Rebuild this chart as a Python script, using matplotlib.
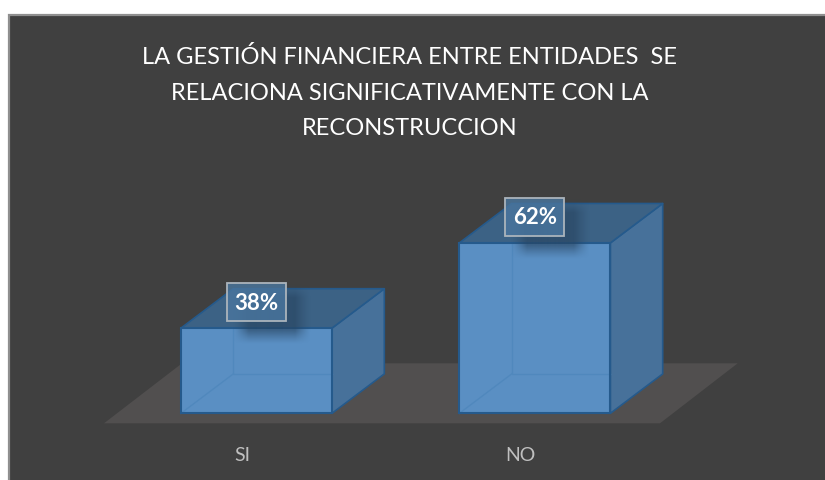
import matplotlib
matplotlib.use("Agg")
import matplotlib.pyplot as plt
import numpy as np
from matplotlib.colors import to_rgb
from matplotlib.patches import Polygon, Rectangle

categories = ["SI", "NO"]
values = [38, 62]
labels = ["38%", "62%"]
title = "LA GESTIÓN FINANCIERA ENTRE ENTIDADES  SE\nRELACIONA SIGNIFICATIVAMENTE CON LA\nRECONSTRUCCION"

W, H = 825, 481
X0, XS = 256.5, 278.4      # pixel of category 0, pixels per category
Y0, YS, VBASE = 414.3, 3.55, 14.0  # baseline pixel, pixels per unit, axis minimum
BW = 151 / XS
DX, DY = 52.3 / XS, 39.4 / YS      # 3-D depth in data units

plt.rcParams["font.family"] = ["Lato", "DejaVu Sans"]
fig = plt.figure(figsize=(W / 100, H / 100), dpi=100, facecolor="white")
ax = fig.add_axes([0, 0, 1, 1])
ax.set_xlim(-X0 / XS, (W - X0) / XS)
ax.set_ylim(VBASE - (H - Y0) / YS, VBASE + Y0 / YS)
ax.axis("off")

def px(x, y):
    """Figure pixel (top-left origin) to data coordinates, for the panel and floor."""
    return ((x - X0) / XS, VBASE + (Y0 - y) / YS)

# panel
x0, y0 = px(8.5, 15.5)
x1, y1 = px(W + 5, H + 5)
ax.add_patch(Rectangle((x0, y1), x1 - x0, y0 - y1, fc="#404040", ec="#8f8f8f", lw=1.6, zorder=0))

# floor
ax.add_patch(Polygon([px(104, 424.3), px(660, 424.3), px(737.7, 364.3), px(182, 364.3)],
                     closed=True, fc="#514f4f", ec="none", zorder=1))

EDGE = "#255a8c"
# soft shadow, as an alpha mask of a blurred box
n = 120
gx, gy = np.meshgrid(np.linspace(-1, 1, n), np.linspace(-1, 1, n))
def ramp(d, edge):
    return np.clip((1 - np.abs(d)) / edge, 0, 1) ** 1.2
mask = ramp(gx, 0.4) * ramp(gy, 0.45)
rgba = np.zeros((n, n, 4))
rgba[..., :3] = to_rgb("#27435f")
rgba[..., 3] = mask * 0.6

for i, (v, lab) in enumerate(zip(values, labels)):
    l, r = i - BW / 2, i + BW / 2
    ax.add_patch(Polygon([(r, VBASE), (r + DX, VBASE + DY), (r + DX, v + DY), (r, v)],
                         closed=True, fc="#47719a", ec=EDGE, lw=1.2, joinstyle="round", zorder=3))
    ax.add_patch(Polygon([(l, v), (r, v), (r + DX, v + DY), (l + DX, v + DY)],
                         closed=True, fc="#3c6285", ec=EDGE, lw=1.2, joinstyle="round", zorder=3))
    ax.add_patch(Rectangle((l, VBASE), BW, v - VBASE, fc="#5a8fc3", ec="none", zorder=4))
    # faint hidden edges
    ax.plot([l + DX, l + DX, r], [v, VBASE + DY, VBASE + DY], color="#5088bd", lw=1, zorder=5)
    ax.plot([l, l + DX], [VBASE, VBASE + DY], color="#5088bd", lw=1, zorder=5)
    ax.add_patch(Rectangle((l, VBASE), BW, v - VBASE, fc="none", ec=EDGE, lw=1.5, zorder=6))

    cx, cy = i, v + 26.0 / YS
    hw, hh = 29.5 / XS, 19.3 / YS
    # blurred label shadow, offset down and right of the box
    ax.imshow(rgba, extent=(cx - 24 / XS, cx + 54 / XS, cy - 42 / YS, cy + 18 / YS),
              aspect="auto", interpolation="bilinear", zorder=7)
    # label box
    ax.add_patch(Rectangle((cx - hw, cy - hh), 2 * hw, 2 * hh, fc="#4a769f", alpha=0.8, ec="none", zorder=8))
    ax.add_patch(Rectangle((cx - hw, cy - hh), 2 * hw, 2 * hh, fc="none", ec="#abb4bc", lw=1.3, zorder=9))
    ax.text(cx, cy, lab, color="white", fontsize=16, fontweight="bold", ha="center", va="center", zorder=10)

# imshow resets limits
ax.set_xlim(-X0 / XS, (W - X0) / XS)
ax.set_ylim(VBASE - (H - Y0) / YS, VBASE + Y0 / YS)

# category labels
label_px = [242, 520.5]
for c, lx in zip(categories, label_px):
    tx, ty = px(lx, 455.5)
    ax.text(tx, ty, c, color="#bfbfbf", fontsize=14, ha="center", va="center")

# title
tx, ty = px(410, 92.5)
ax.text(tx, ty, title, color="white", fontsize=17, ha="center", va="center", linespacing=1.87)

fig.savefig("out.png", dpi=100, facecolor="white")
